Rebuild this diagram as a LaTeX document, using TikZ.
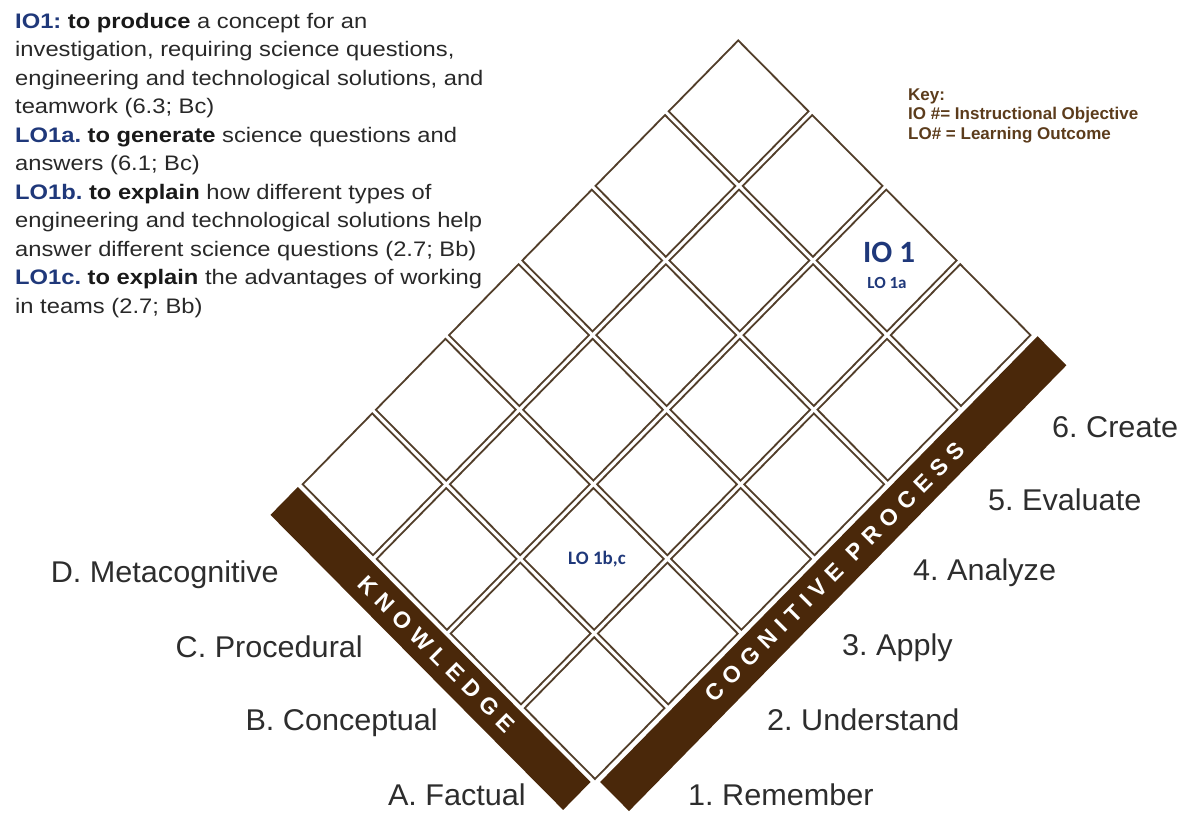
\documentclass[tikz,border=0pt]{standalone}
\usepackage{fontspec}
\setmainfont{Liberation Sans}
\newfontfamily\calib{Carlito}
\newfontfamily\bodyfont[FakeStretch=1.13]{Liberation Sans}
\newfontfamily\labelfont[FakeStretch=1.02]{Liberation Sans}
\newfontfamily\barfont[LetterSpace=32]{Liberation Sans}

\definecolor{barbrown}{RGB}{74,40,10}
\definecolor{cellline}{RGB}{82,62,42}
\definecolor{navy}{RGB}{31,56,122}
\definecolor{keybrown}{RGB}{92,60,28}
\definecolor{bodytext}{RGB}{40,40,40}
\definecolor{strongtext}{RGB}{25,25,25}
\definecolor{labeltext}{RGB}{45,45,45}

\newcommand{\obj}[1]{{\color{navy}\bfseries #1}}
\newcommand{\verbword}[1]{{\color{strongtext}\bfseries #1}}

\begin{document}
\frenchspacing
\begin{tikzpicture}[x=1pt,y=-1pt,
  cellbox/.style={draw=cellline, line width=1.8pt, fill=white, line join=miter},
  barfill/.style={fill=barbrown},
  bodyline/.style={anchor=base west, inner sep=0pt, font=\bodyfont\fontsize{21}{25}\selectfont, text=bodytext},
  axislabel/.style={inner sep=0pt, font=\labelfont\fontsize{30}{34}\selectfont, text=labeltext},
  keyline/.style={anchor=base west, inner sep=0pt, font=\fontsize{17}{20}\selectfont\bfseries, text=keybrown},
  barlabel/.style={inner sep=0pt, text=white, font=\barfont\bfseries\fontsize{23}{26}\selectfont},
  celltext/.style={inner sep=0pt, text=navy}
]
\path[use as bounding box] (0,0) rectangle (1182,812);

% ---- objectives text ----
\node[bodyline] (t1)  at (15,28)    {\obj{IO1:} \verbword{to produce} a concept for an};
\node[bodyline] (t2)  at (15,56.5)  {investigation, requiring science questions,};
\node[bodyline] (t3)  at (15,85)    {engineering and technological solutions, and};
\node[bodyline] (t4)  at (15,113.5) {teamwork (6.3; Bc)};
\node[bodyline] (t5)  at (15,142)   {\obj{LO1a.} \verbword{to generate} science questions and};
\node[bodyline] (t6)  at (15,170.5) {answers (6.1; Bc)};
\node[bodyline] (t7)  at (15,199)   {\obj{LO1b.} \verbword{to explain} how different types of};
\node[bodyline] (t8)  at (15,227.5) {engineering and technological solutions help};
\node[bodyline] (t9)  at (15,256)   {answer different science questions (2.7; Bb)};
\node[bodyline] (t10) at (15,284.5) {\obj{LO1c.} \verbword{to explain} the advantages of working};
\node[bodyline] (t11) at (15,313)   {in teams (2.7; Bb)};

% ---- key ----
\node[keyline] (k1) at (908,100) {Key:};
\node[keyline] (k2) at (908,119.5) {IO \#= Instructional Objective};
\node[keyline] (k3) at (908,139) {LO\# = Learning Outcome};

% ---- taxonomy grid: u = cognitive process (1..6), v = knowledge (A..D) ----
\begin{scope}[shift={(595pt,-782.7pt)}, x={(73.2pt,74.6pt)}, y={(-74pt,74.6pt)}]
  \def\gp{0.025}
  \foreach \i in {0,...,5}
    \foreach \j in {0,...,3}
      \draw[cellbox] (\i+\gp,\j+\gp) -- (\i+1-\gp,\j+\gp) -- (\i+1-\gp,\j+1-\gp) -- (\i+\gp,\j+1-\gp) -- cycle;

  % knowledge bar
  \fill[barfill] (-0.025,0.035) -- (-0.40,0.035) -- (-0.40,3.99) -- (-0.025,3.99) -- cycle;
  % cognitive process bar
  \fill[barfill] (0.04,-0.03) -- (0.04,-0.42) -- (6.015,-0.42) -- (6.015,-0.03) -- cycle;

  \node[barlabel, rotate=-45] (kn) at (-0.21,1.93) {KNOWLEDGE};
  \node[barlabel, rotate=45] (cp) at (3.05,-0.225) {COGNITIVE PROCESS};
\end{scope}

% ---- cell entries ----
\node[celltext, font=\calib\bfseries\fontsize{31}{33}\selectfont] (io1) at (889,252) {IO 1};
\node[celltext, font=\calib\bfseries\fontsize{17}{19}\selectfont] (lo1a) at (887,283) {LO 1a};
\node[celltext, font=\calib\bfseries\fontsize{19}{21}\selectfont] (lo1bc) at (597,559) {LO 1b,c};

% ---- knowledge dimension labels ----
\node[axislabel, anchor=base east] (kD) at (279,582) {D. Metacognitive};
\node[axislabel, anchor=base east] (kC) at (363,657) {C. Procedural};
\node[axislabel, anchor=base east] (kB) at (438,730) {B. Conceptual};
\node[axislabel, anchor=base east] (kA) at (526,805) {A. Factual};

% ---- cognitive process labels ----
\node[axislabel, anchor=base west] (c6) at (1052,437) {6. Create};
\node[axislabel, anchor=base west] (c5) at (988,510) {5. Evaluate};
\node[axislabel, anchor=base west] (c4) at (913,580) {4. Analyze};
\node[axislabel, anchor=base west] (c3) at (842,655) {3. Apply};
\node[axislabel, anchor=base west] (c2) at (767,730) {2. Understand};
\node[axislabel, anchor=base west] (c1) at (688,805) {1. Remember};
\end{tikzpicture}
\end{document}
